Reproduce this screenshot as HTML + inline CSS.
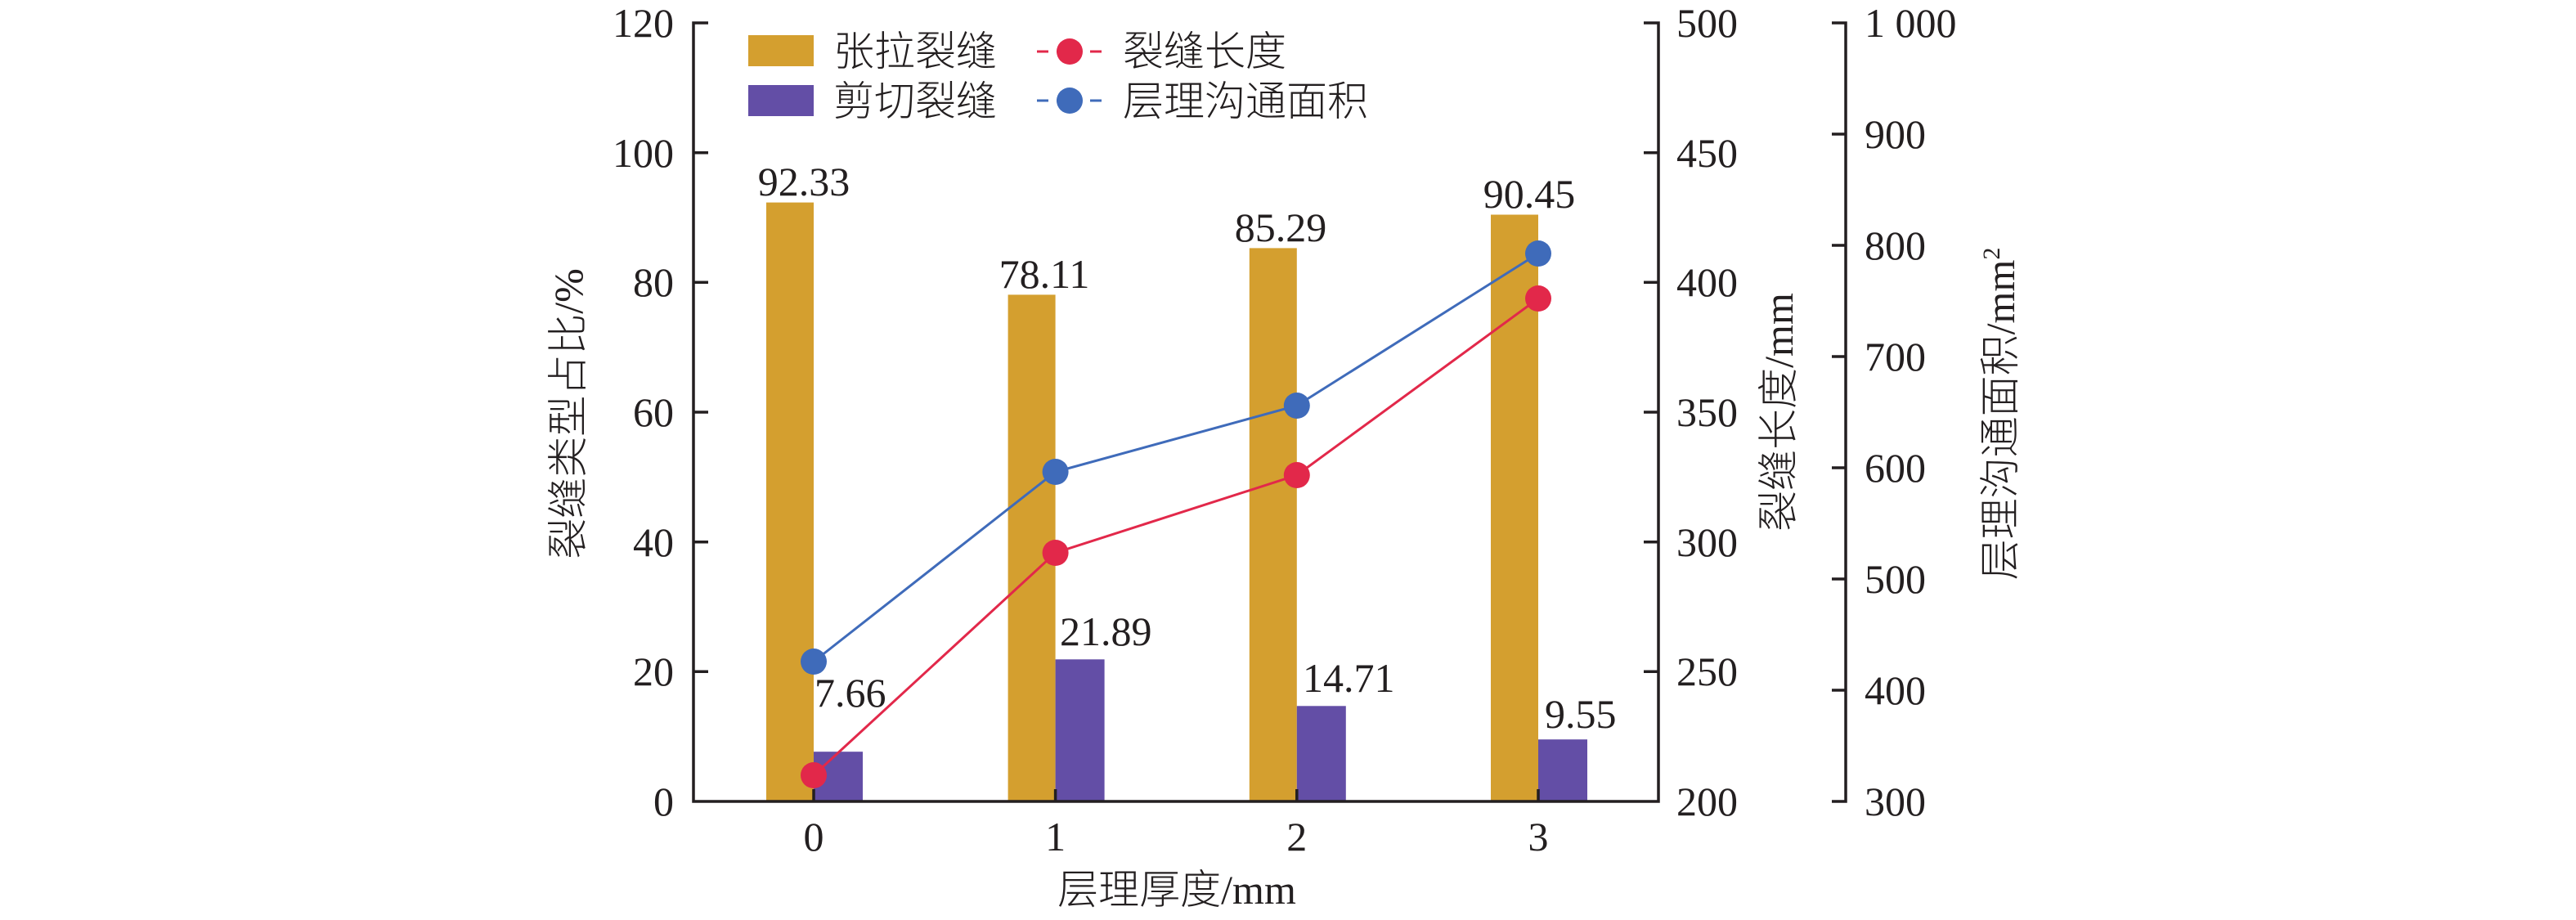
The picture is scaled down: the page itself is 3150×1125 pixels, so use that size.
<!DOCTYPE html>
<html><head><meta charset="utf-8"><style>
html,body{margin:0;padding:0;background:#fff;}
svg{display:block;}
.n{font-family:"Liberation Serif",serif;font-size:50px;fill:#231f20;}
.c{font-family:"Liberation Serif","Noto Sans CJK SC",sans-serif;font-size:50px;font-weight:300;fill:#231f20;}
</style></head><body>
<svg width="3150" height="1125" viewBox="0 0 3150 1125" xmlns="http://www.w3.org/2000/svg">
<g fill="#D49F2F">
<rect x="937" y="247.6" width="58" height="732.4"/>
<rect x="1232.6" y="360.4" width="58" height="619.6"/>
<rect x="1527.8" y="303.4" width="58" height="676.6"/>
<rect x="1823" y="262.5" width="58" height="717.5"/>
</g>
<g fill="#634EA6">
<rect x="995" y="919.2" width="60" height="60.8"/>
<rect x="1290.6" y="806.3" width="60" height="173.7"/>
<rect x="1585.8" y="863.3" width="60" height="116.7"/>
<rect x="1881" y="904.2" width="60" height="75.8"/>
</g>
<g stroke="#231f20" stroke-width="3.5" fill="none">
<path d="M866 28H848V980H2028V28H2010"/>
<path d="M848 186.7H866M848 345.3H866M848 504H866M848 662.7H866M848 821.3H866"/>
<path d="M2028 186.7H2010M2028 345.3H2010M2028 504H2010M2028 662.7H2010M2028 821.3H2010"/>
<path d="M995 980V965M1290.6 980V965M1585.8 980V965M1881 980V965"/>
<path d="M2240 28H2257V980H2240"/>
<path d="M2240 164H2257M2240 300H2257M2240 436H2257M2240 572H2257M2240 708H2257M2240 844H2257"/>
</g>
<polyline points="995,809 1290.6,577 1585.8,496 1881,310" fill="none" stroke="#3F6BBA" stroke-width="3"/>
<polyline points="995,948 1290.6,676 1585.8,581 1881,365" fill="none" stroke="#E2284A" stroke-width="3"/>
<g fill="#3F6BBA"><circle cx="995" cy="809" r="16"/><circle cx="1290.6" cy="577" r="16"/><circle cx="1585.8" cy="496" r="16"/><circle cx="1881" cy="310" r="16"/></g>
<g fill="#E2284A"><circle cx="995" cy="948" r="16"/><circle cx="1290.6" cy="676" r="16"/><circle cx="1585.8" cy="581" r="16"/><circle cx="1881" cy="365" r="16"/></g>
<g class="n" text-anchor="end">
<text x="824" y="45">120</text><text x="824" y="204">100</text><text x="824" y="362">80</text>
<text x="824" y="521">60</text><text x="824" y="680">40</text><text x="824" y="838">20</text><text x="824" y="997">0</text>
</g>
<g class="n">
<text x="2050" y="45">500</text><text x="2050" y="204">450</text><text x="2050" y="362">400</text>
<text x="2050" y="521">350</text><text x="2050" y="680">300</text><text x="2050" y="838">250</text><text x="2050" y="997">200</text>
<text x="2280" y="45">1 000</text><text x="2280" y="181">900</text><text x="2280" y="317">800</text><text x="2280" y="453">700</text>
<text x="2280" y="589">600</text><text x="2280" y="725">500</text><text x="2280" y="861">400</text><text x="2280" y="997">300</text>
</g>
<g class="n" text-anchor="middle">
<text x="995" y="1040">0</text><text x="1290.6" y="1040">1</text><text x="1585.8" y="1040">2</text><text x="1881" y="1040">3</text>
<text x="983" y="239">92.33</text><text x="1277" y="352">78.11</text><text x="1566" y="295">85.29</text><text x="1870" y="254">90.45</text>
</g>
<g class="n">
<text x="996" y="864">7.66</text><text x="1296" y="789">21.89</text><text x="1593" y="846">14.71</text><text x="1889" y="890">9.55</text>
</g>
<text class="c" x="1439" y="1105" text-anchor="middle">层理厚度/mm</text>
<text class="c" text-anchor="middle" transform="translate(712,506) rotate(-90)">裂缝类型占比/%</text>
<text class="c" text-anchor="middle" transform="translate(2192,504) rotate(-90)">裂缝长度/mm</text>
<text class="c" text-anchor="middle" transform="translate(2463,506) rotate(-90)">层理沟通面积/mm<tspan font-size="30" dy="-18">2</tspan></text>
<rect x="915" y="43" width="80" height="38" fill="#D49F2F"/>
<rect x="915" y="104" width="80" height="38" fill="#634EA6"/>
<text class="c" x="1019" y="80">张拉裂缝</text>
<text class="c" x="1019" y="141">剪切裂缝</text>
<line x1="1268" y1="63" x2="1347" y2="63" stroke="#E2284A" stroke-width="3" stroke-dasharray="14,10,31,10,14"/>
<circle cx="1308" cy="63" r="16" fill="#E2284A"/>
<line x1="1268" y1="123" x2="1347" y2="123" stroke="#3F6BBA" stroke-width="3" stroke-dasharray="14,10,31,10,14"/>
<circle cx="1308" cy="123" r="16" fill="#3F6BBA"/>
<text class="c" x="1373" y="80">裂缝长度</text>
<text class="c" x="1373" y="141">层理沟通面积</text>
</svg>
</body></html>
